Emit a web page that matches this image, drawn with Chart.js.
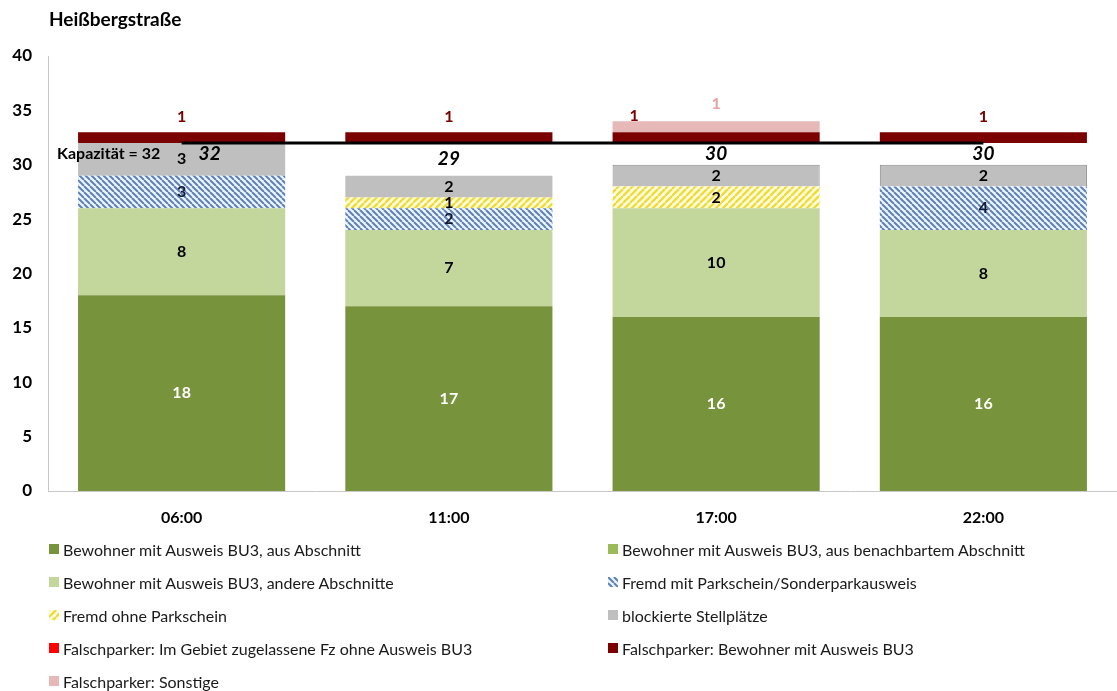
<!DOCTYPE html>
<html>
<head>
<meta charset="utf-8">
<script src="https://cdn.jsdelivr.net/npm/chart.js@4"></script>
<style>
  body { margin: 0; background: #fff; }
  #wrap { position: relative; width: 1117px; height: 691px; }
  #title {
    position: absolute; left: 49px; top: 7px;
    font: bold 19px Lato, "Open Sans", sans-serif; color: #000;
  }
  #legend .item {
    position: absolute; display: flex; align-items: center; height: 20px;
    font: 16px Lato, "Open Sans", sans-serif; color: #1a1a1a; white-space: nowrap;
  }
  #legend canvas { margin-right: 4px; }
</style>
</head>
<body>
<div id="wrap">
  <canvas id="chart" width="1117" height="691"></canvas>
  <div id="title">Heißbergstraße</div>
  <div id="legend"></div>
</div>
<script>
// ---- data ----
const times = ['06:00', '11:00', '17:00', '22:00'];
const capacity = 32;
const totals = [32, 29, 30, 30];

const bewohnerAbschnitt = [18, 17, 16, 16];
const bewohnerNachbar = [0, 0, 0, 0];
const bewohnerAndere = [8, 7, 10, 8];
const fremdMitSchein = [3, 2, 0, 4];
const fremdOhneSchein = [0, 1, 2, 0];
const blockiert = [3, 2, 2, 2];
const gapToCapacity = [0, 3, 2, 2];   // free spaces up to the capacity line
const falschGebiet = [0, 0, 0, 0];
const falschBewohner = [1, 1, 1, 1];
const falschSonstige = [0, 0, 1, 0];

const FONT = 'Lato, "Open Sans", sans-serif';

// striped fill for the hatched series
function stripes(fg, bg, size, dir) {
    const c = document.createElement('canvas');
    c.width = size; c.height = size;
    const g = c.getContext('2d');
    g.fillStyle = bg;
    g.fillRect(0, 0, size, size);
    g.strokeStyle = fg;
    g.lineWidth = size * 0.33;
    for (let o = -size; o <= size; o += size) {
        g.beginPath();
        if (dir === 'down') { g.moveTo(o, 0); g.lineTo(o + size, size); }
        else { g.moveTo(o + size, 0); g.lineTo(o, size); }
        g.stroke();
    }
    return g.createPattern(c, 'repeat');
}

const blueHatch = stripes('#5a82ba', '#f0f5fb', 6, 'down');
const yellowHatch = stripes('#f0dc30', '#fffce6', 7, 'up');

function bar(label, data, color, extra) {
    return Object.assign({
        type: 'bar', label: label, data: data, backgroundColor: color,
        borderWidth: 0, stack: 'occ', inLegend: true
    }, extra || {});
}

const datasets = [
    {
        type: 'line', label: 'Kapazität', data: times.map(() => capacity),
        borderColor: '#000', borderWidth: 3, pointRadius: 0, stack: 'cap',
        order: -1, inLegend: false
    },
    bar('Bewohner mit Ausweis BU3, aus Abschnitt', bewohnerAbschnitt, '#77933c', { valueLabel: { color: '#ffffff' } }),
    bar('Bewohner mit Ausweis BU3, aus benachbartem Abschnitt', bewohnerNachbar, '#9bbb59', { valueLabel: { color: '#000' } }),
    bar('Bewohner mit Ausweis BU3, andere Abschnitte', bewohnerAndere, '#c3d69b', { valueLabel: { color: '#000' } }),
    bar('Fremd mit Parkschein/Sonderparkausweis', fremdMitSchein, blueHatch, { valueLabel: { color: '#111a33' } }),
    bar('Fremd ohne Parkschein', fremdOhneSchein, yellowHatch, { valueLabel: { color: '#000' } }),
    bar('blockierte Stellplätze', blockiert, '#bfbfbf', {
        valueLabel: { color: '#000' }, borderColor: '#8c8c8c', borderWidth: [0, 0, 1, 1]
    }),
    bar('frei', gapToCapacity, 'rgba(0,0,0,0)', { inLegend: false, totalLabel: true }),
    bar('Falschparker: Im Gebiet zugelassene Fz ohne Ausweis BU3', falschGebiet, '#ff0000', { valueLabel: { color: '#ff0000', above: true } }),
    bar('Falschparker: Bewohner mit Ausweis BU3', falschBewohner, '#7b0000', { valueLabel: { color: '#7b0000', above: true } }),
    bar('Falschparker: Sonstige', falschSonstige, '#e6b9b8', { valueLabel: { color: '#e6a3a2', above: true } })
];

// value labels, totals and the capacity caption
const labelPlugin = {
    id: 'segmentLabels',
    afterDatasetsDraw(chart) {
        const ctx = chart.ctx;
        const yScale = chart.scales.y;
        ctx.save();
        ctx.textAlign = 'center';
        ctx.textBaseline = 'middle';
        chart.data.datasets.forEach((ds, i) => {
            const meta = chart.getDatasetMeta(i);
            if (ds.valueLabel) {
                ctx.font = 'bold 16px ' + FONT;
                ctx.fillStyle = ds.valueLabel.color;
                meta.data.forEach((el, j) => {
                    const v = ds.data[j];
                    if (!v) return;
                    let px = el.x;
                    let py = (el.y + el.base) / 2;
                    if (ds.valueLabel.above) {
                        py = el.y - 15;
                        // dark red label moves aside when the pink segment sits on top
                        if (ds.data === falschBewohner && falschSonstige[j] > 0) { px -= 82; py -= 1; }
                        if (ds.data === falschSonstige) py -= 2;
                    }
                    ctx.fillText(String(v), px, py);
                });
            }
            if (ds.totalLabel) {
                ctx.font = 'italic bold 19px ' + FONT;
                ctx.fillStyle = '#000';
                meta.data.forEach((el, j) => {
                    let px = el.x, py;
                    if (gapToCapacity[j] > 0) py = (el.y + el.base) / 2;
                    else { px += 28; py = yScale.getPixelForValue(totals[j]) + 11; }
                    ctx.fillText(String(totals[j]), px, py);
                });
            }
        });
        ctx.font = 'bold 16px ' + FONT;
        ctx.fillStyle = '#000';
        ctx.textAlign = 'left';
        ctx.fillText('Kapazität = ' + capacity, chart.chartArea.left + 9, yScale.getPixelForValue(capacity) + 11);
        ctx.restore();
    }
};

Chart.defaults.font.family = FONT;
Chart.defaults.color = '#000';

const chart = new Chart(document.getElementById('chart'), {
    data: { labels: times, datasets: datasets },
    options: {
        responsive: false,
        animation: false,
        devicePixelRatio: 1,
        layout: { padding: { left: 0, right: 0, top: 56, bottom: 160 } },
        datasets: { bar: { categoryPercentage: 0.775, barPercentage: 1 } },
        plugins: {
            legend: { display: false },
            tooltip: { enabled: false },
            title: { display: false }
        },
        scales: {
            x: {
                stacked: true,
                grid: { display: false, drawTicks: false },
                border: { display: true, color: '#c8c8c8', width: 1 },
                ticks: { padding: 17, color: '#000', font: { size: 16, weight: 'bold' } },
                afterFit: s => { s.height = 40; }
            },
            y: {
                stacked: true,
                min: 0,
                max: 40,
                grid: { display: false, drawTicks: false },
                border: { display: true, color: '#c8c8c8', width: 1 },
                ticks: { stepSize: 5, padding: 16, color: '#000', font: { size: 17, weight: 'bold' } },
                afterFit: s => { s.width = 48; }
            }
        }
    },
    plugins: [labelPlugin]
});

// two-column legend below the plot
const legendEl = document.getElementById('legend');
chart.data.datasets.filter(d => d.inLegend).forEach((ds, k) => {
    const item = document.createElement('div');
    item.className = 'item';
    item.style.left = (k % 2 ? 608 : 49) + 'px';
    item.style.top = (539 + 33 * Math.floor(k / 2)) + 'px';
    const sw = document.createElement('canvas');
    sw.width = 10; sw.height = 10;
    const g = sw.getContext('2d');
    g.fillStyle = ds.backgroundColor;
    g.fillRect(0, 0, 10, 10);
    const txt = document.createElement('span');
    txt.textContent = ds.label;
    item.appendChild(sw);
    item.appendChild(txt);
    legendEl.appendChild(item);
});
</script>
</body>
</html>
